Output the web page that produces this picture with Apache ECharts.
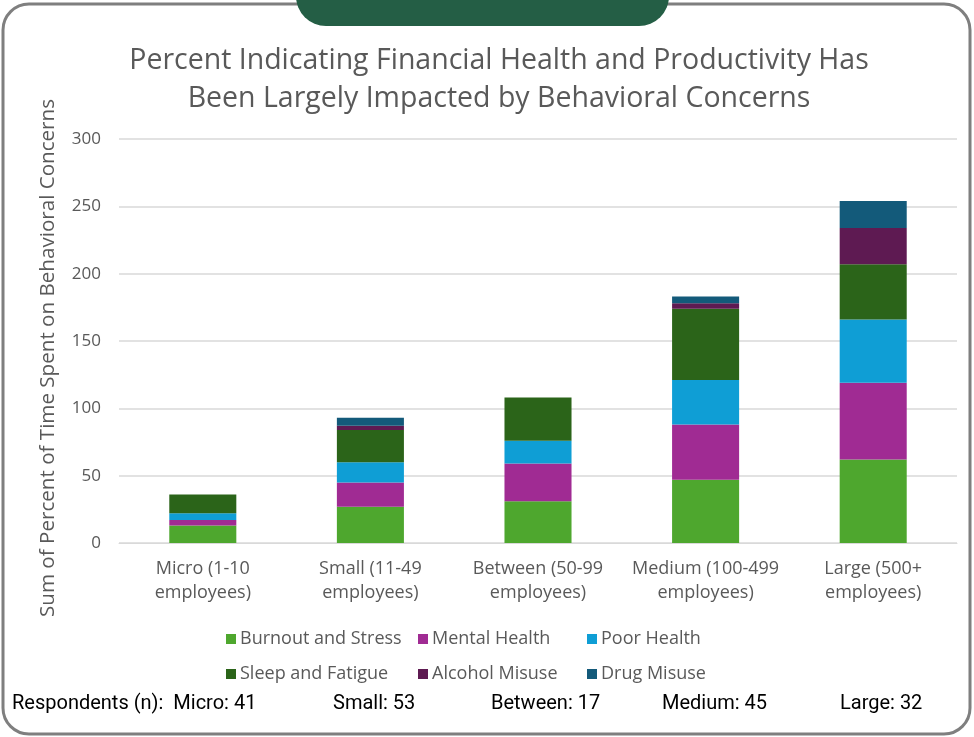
<!DOCTYPE html>
<html><head><meta charset="utf-8">
<script src="https://cdn.jsdelivr.net/npm/echarts@6/dist/echarts.min.js"></script>
<style>html,body{margin:0;padding:0;background:#fff}#c{width:974px;height:737px}</style>
</head><body><div id="c"></div>
<script>
const categories = ['Micro (1-10\nemployees)', 'Small (11-49\nemployees)', 'Between (50-99\nemployees)', 'Medium (100-499\nemployees)', 'Large (500+\nemployees)'];
const burnout = [13, 27, 31, 47, 62];
const mental = [4, 18, 28, 41, 57];
const poorHealth = [5, 15, 17, 33, 47];
const sleep = [14, 24, 32, 53, 41];
const alcohol = [0, 3, 0, 4, 27];
const drug = [0, 6, 0, 5, 20];
const respondentLabels = ['Respondents (n):  Micro: 41', 'Small: 53', 'Between: 17', 'Medium: 45', 'Large: 32'];
const yTicks = [0, 50, 100, 150, 200, 250, 300];
const yTitle = 'Sum of Percent of Time Spent on Behavioral Concerns';

const seriesDefs = [
  ['Burnout and Stress', burnout, '#4ea72e'],
  ['Mental Health', mental, '#a02b93'],
  ['Poor Health', poorHealth, '#0f9ed5'],
  ['Sleep and Fatigue', sleep, '#2b6419'],
  ['Alcohol Misuse', alcohol, '#5e1a52'],
  ['Drug Misuse', drug, '#135a7a']
];
const txt = '#595959';
const chart = echarts.init(document.getElementById('c'), null, {renderer: 'canvas'});
const legendCommon = {orient: 'vertical', itemWidth: 10, itemHeight: 10, itemGap: 17, icon: 'rect',
  textStyle: {color: txt, fontSize: 18, fontFamily: 'Open Sans', padding: [0, 0, 0, -1]}, selectedMode: false, itemStyle: {borderWidth: 0}};
const respX = [12, 333, 491, 662, 840];
chart.setOption({
  animation: false,
  backgroundColor: '#fff',
  title: {
    text: 'Percent Indicating Financial Health and Productivity Has\nBeen Largely Impacted by Behavioral Concerns',
    left: 494, top: 37, textAlign: 'center',
    textStyle: {color: txt, fontSize: 28.5, fontWeight: 'normal', fontFamily: 'Open Sans', lineHeight: 38}
  },
  legend: [
    Object.assign({left: 221, top: 625, data: ['Burnout and Stress', 'Sleep and Fatigue']}, legendCommon),
    Object.assign({left: 413, top: 625, data: ['Mental Health', 'Alcohol Misuse']}, legendCommon),
    Object.assign({left: 582, top: 625, data: ['Poor Health', 'Drug Misuse']}, legendCommon)
  ],
  grid: {left: 119, right: 17, top: 139, bottom: 194},
  xAxis: {
    type: 'category', data: categories,
    axisLine: {show: true, lineStyle: {color: '#d9d9d9'}}, axisTick: {show: false},
    axisLabel: {color: txt, fontSize: 18, fontFamily: 'Open Sans', lineHeight: 24, margin: 14, interval: 0}
  },
  yAxis: {
    type: 'value', min: yTicks[0], max: yTicks[yTicks.length - 1], interval: 50,
    axisLabel: {color: txt, fontSize: 17, fontFamily: 'Open Sans', margin: 18},
    splitLine: {lineStyle: {color: '#d9d9d9', width: 1.5}}
  },
  series: seriesDefs.map(([name, data, color]) => ({
    name, type: 'bar', stack: 'total', data, barWidth: '40%',
    itemStyle: {color}, emphasis: {disabled: true}
  })),
  graphic: [
    {type: 'rect', shape: {x: 3, y: 4, width: 967, height: 730, r: 26}, style: {fill: 'none', stroke: '#7f7f7f', lineWidth: 3}, z: 10},
    {type: 'rect', shape: {x: 296, y: -40, width: 373, height: 66, r: 30}, style: {fill: '#245e45'}, z: 11},
    {type: 'text', x: 48, y: 358, rotation: Math.PI / 2,
      style: {text: yTitle, fill: txt, fontSize: 20.6, fontFamily: 'Open Sans', align: 'center', verticalAlign: 'middle'}, z: 12}
  ].concat(respondentLabels.map((t, i) => ({
    type: 'text', x: respX[i], y: 694, style: {text: t, fill: '#000', fontSize: 20, fontFamily: 'Roboto'}, z: 12
  })))
});
</script></body></html>
